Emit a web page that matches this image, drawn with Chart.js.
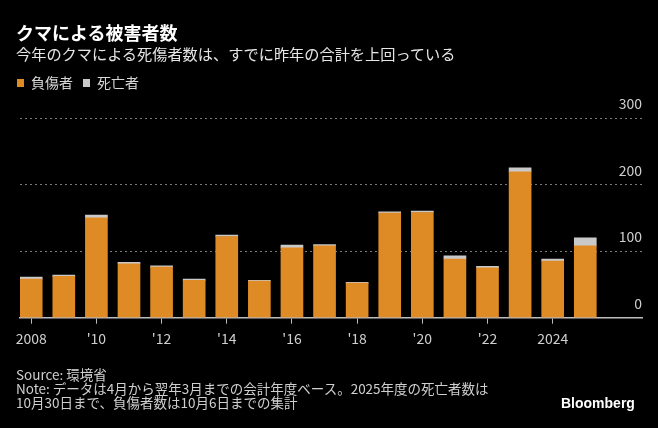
<!DOCTYPE html>
<html>
<head>
<meta charset="utf-8">
<script src="https://cdn.jsdelivr.net/npm/chart.js@4/dist/chart.umd.min.js"></script>
<style>
  html, body { margin: 0; padding: 0; background: #000; }
  #wrap { position: relative; width: 658px; height: 428px; overflow: hidden; font-family: "Noto Sans CJK JP", "Noto Sans", sans-serif; }
  #chart { position: absolute; left: 0; top: 0; }
  .title { position: absolute; left: 16px; top: 20px; color: #fff; font-size: 18px; font-weight: bold; line-height: 24px; }
  .subtitle { position: absolute; left: 16px; top: 42px; color: #e6e6e6; font-size: 15.2px; line-height: 22px; }
  .footer { position: absolute; left: 16px; top: 368px; color: #cfcfcf; font-size: 13.5px; line-height: 13.8px; }
  .logo { position: absolute; left: 561px; top: 395px; color: #fff; font-family: "Liberation Sans", Arial, sans-serif; font-size: 14px; font-weight: bold; }
</style>
</head>
<body>
<div id="wrap">
  <canvas id="chart" width="658" height="428"></canvas>
  <div class="title">クマによる被害者数</div>
  <div class="subtitle">今年のクマによる死傷者数は、すでに昨年の合計を上回っている</div>
  <div class="footer">Source: 環境省<br>Note: データは4月から翌年3月までの会計年度ベース。2025年度の死亡者数は<br>10月30日まで、負傷者数は10月6日までの集計</div>
  <div class="logo">Bloomberg</div>
</div>
<script>
const years = [2008, 2009, 2010, 2011, 2012, 2013, 2014, 2015, 2016, 2017, 2018, 2019, 2020, 2021, 2022, 2023, 2024, 2025];
const injured = [58, 62, 150, 81, 76, 56, 122, 55, 105, 108, 52, 157, 158, 88, 75, 219, 85, 108];
const deaths = [3, 2, 4, 2, 2, 2, 2, 1, 4, 2, 1, 2, 2, 5, 2, 6, 3, 12];
const tickYears = [2008, 2010, 2012, 2014, 2016, 2018, 2020, 2022, 2024];
const yTicks = [0, 100, 200, 300];

const orange = '#DF8B25';
const grey = '#C9C9C9';

// taller legend block so the plot starts lower, and legend nudged to the left margin
const legendSpace = {
  id: 'legendSpace',
  beforeInit(chart) {
    const legend = chart.legend;
    const fit = legend.fit;
    legend.fit = function () {
      fit.call(this);
      this.height += 18;
    };
    const draw = legend.draw;
    legend.draw = function () {
      const ctx = this.ctx;
      ctx.save();
      ctx.translate(-13, 0);
      draw.call(this);
      ctx.restore();
    };
  }
};

new Chart(document.getElementById('chart'), {
  type: 'bar',
  data: {
    datasets: [
      {
        label: '負傷者',
        data: years.map((y, i) => ({ x: y, y: injured[i] })),
        backgroundColor: orange,
        barThickness: 22
      },
      {
        label: '死亡者',
        data: years.map((y, i) => ({ x: y, y: deaths[i] })),
        backgroundColor: grey,
        barThickness: 22
      }
    ]
  },
  options: {
    responsive: false,
    animation: false,
    layout: { padding: { left: 20, right: 16, top: 66, bottom: 73.5 } },
    plugins: {
      title: { display: false },
      tooltip: { enabled: false },
      legend: {
        display: true,
        position: 'top',
        align: 'start',
        labels: {
          color: '#d8d8d8',
          boxWidth: 7,
          boxHeight: 8,
          padding: 10,
          font: { family: '"Noto Sans CJK JP", sans-serif', size: 14 }
        }
      }
    },
    scales: {
      x: {
        type: 'linear',
        stacked: true,
        offset: false,
        min: 2007.656,
        max: 2026.74,
        afterBuildTicks: scale => {
          scale.ticks = tickYears.map(v => ({ value: v }));
        },
        grid: {
          display: true,
          offset: false,
          drawOnChartArea: false,
          drawTicks: true,
          tickLength: 6,
          color: '#bdbdbd'
        },
        border: { display: true, color: '#bdbdbd', width: 1.5 },
        ticks: {
          color: '#cfcfcf',
          padding: 7,
          maxRotation: 0,
          autoSkip: false,
          font: { family: '"Noto Sans CJK JP", sans-serif', size: 14 },
          callback: v => (v === 2008 || v === 2024) ? String(v) : "'" + String(v).slice(2)
        }
      },
      y: {
        position: 'right',
        stacked: true,
        min: 0,
        max: 300,
        afterBuildTicks: scale => {
          scale.ticks = yTicks.map(v => ({ value: v }));
        },
        grid: {
          color: ctx => ctx.tick && ctx.tick.value === 0 ? 'rgba(0,0,0,0)' : '#7a7a7a',
          lineWidth: 1,
          drawTicks: false
        },
        border: { display: false, dash: [2, 3] },
        ticks: {
          mirror: true,
          padding: 0,
          labelOffset: -14,
          color: '#cfcfcf',
          font: { family: '"Noto Sans CJK JP", sans-serif', size: 14 }
        }
      }
    }
  },
  plugins: [legendSpace]
});
</script>
</body>
</html>
